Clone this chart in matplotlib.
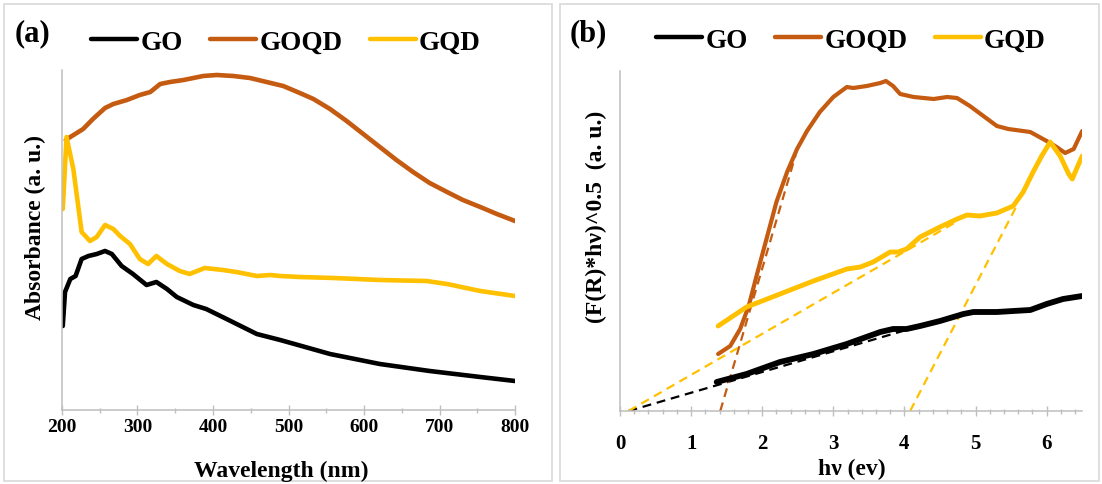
import matplotlib
matplotlib.use("Agg")
import matplotlib.pyplot as plt
from matplotlib.patches import Rectangle
from matplotlib.lines import Line2D
from matplotlib.ticker import MultipleLocator, NullLocator

# ---------------- data ----------------
# (a) UV-vis absorbance
wl_go = [201, 204, 211, 218, 226, 235, 246, 257, 266, 279, 294, 312, 325, 339, 352,
         374, 391, 418, 458, 489, 515, 555, 621, 687, 754, 800]
abs_go = [0.84, 1.18, 1.31, 1.34, 1.51, 1.54, 1.56, 1.59, 1.56, 1.44, 1.36, 1.25, 1.28,
          1.21, 1.13, 1.05, 1.01, 0.91, 0.76, 0.70, 0.645, 0.56, 0.46, 0.39, 0.33, 0.29]

wl_goqd = [205, 211, 228, 241, 257, 268, 286, 303, 317, 330, 343, 361, 374, 387, 405,
           427, 449, 471, 493, 515, 533, 555, 577, 599, 621, 643, 665, 687, 710, 731,
           754, 776, 800]
abs_goqd = [2.70, 2.73, 2.81, 2.91, 3.02, 3.06, 3.10, 3.15, 3.18, 3.26, 3.28, 3.30, 3.32,
            3.34, 3.35, 3.34, 3.32, 3.28, 3.24, 3.17, 3.11, 3.01, 2.89, 2.76, 2.63, 2.50,
            2.38, 2.27, 2.18, 2.10, 2.03, 1.96, 1.89]

wl_gqd = [201, 206, 215, 222, 226, 237, 246, 257, 268, 277, 290, 303, 314, 325, 339, 356,
          369, 389, 413, 431, 458, 476, 489, 515, 560, 621, 683, 710, 754, 800]
abs_gqd = [2.01, 2.73, 2.41, 2.01, 1.78, 1.69, 1.73, 1.85, 1.81, 1.74, 1.66, 1.51, 1.46,
           1.54, 1.46, 1.39, 1.36, 1.42, 1.40, 1.38, 1.34, 1.35, 1.34, 1.33, 1.32, 1.30,
           1.29, 1.26, 1.19, 1.14]

# (b) Kubelka-Munk / Tauc plot
ev_go = [1.36, 1.78, 2.25, 2.72, 3.19, 3.66, 3.84, 4.03, 4.22, 4.50, 4.83, 4.97, 5.30,
         5.53, 5.77, 6.00, 6.23, 6.50]
f_go = [0.29, 0.37, 0.49, 0.57, 0.67, 0.79, 0.82, 0.82, 0.85, 0.90, 0.97, 0.99, 0.99,
        1.00, 1.01, 1.07, 1.12, 1.15]

ev_goqd = [1.38, 1.55, 1.69, 1.81, 1.92, 2.06, 2.20, 2.35, 2.49, 2.63, 2.81, 3.00, 3.19,
           3.28, 3.47, 3.66, 3.74, 3.84, 3.94, 4.13, 4.41, 4.60, 4.74, 4.92, 5.11, 5.30,
           5.46, 5.77, 6.00, 6.14, 6.26, 6.38, 6.50]
f_goqd = [0.57, 0.65, 0.82, 1.05, 1.35, 1.72, 2.09, 2.39, 2.62, 2.80, 2.99, 3.14, 3.24,
          3.23, 3.25, 3.28, 3.30, 3.25, 3.17, 3.14, 3.12, 3.14, 3.13, 3.05, 2.95, 2.85,
          2.82, 2.79, 2.70, 2.64, 2.58, 2.62, 2.80]

ev_gqd = [1.38, 1.78, 2.25, 2.72, 3.19, 3.38, 3.56, 3.80, 3.91, 4.03, 4.22, 4.50, 4.74,
          4.88, 5.06, 5.30, 5.53, 5.67, 5.81, 5.93, 6.05, 6.19, 6.31, 6.36, 6.42, 6.50]
f_gqd = [0.85, 1.04, 1.17, 1.30, 1.42, 1.44, 1.49, 1.59, 1.59, 1.62, 1.74, 1.84, 1.92,
         1.96, 1.95, 1.98, 2.05, 2.19, 2.39, 2.55, 2.69, 2.55, 2.37, 2.32, 2.42, 2.55]

# linear extrapolations (band-gap tangents)
fit_go_ev, fit_go_f = [0.12, 4.75], [0.0, 0.96]
fit_gqd1_ev, fit_gqd1_f = [0.12, 4.75], [0.0, 1.90]
fit_goqd_ev, fit_goqd_f = [1.41, 2.47], [0.0, 2.56]
fit_gqd2_ev, fit_gqd2_f = [4.08, 5.57], [0.0, 2.04]

series_names = ["GO", "GOQD", "GQD"]
colors = {"GO": "#000000", "GOQD": "#C55A11", "GQD": "#FFC000"}

# ---------------- figure ----------------
W, H = 1102, 485
fig = plt.figure(figsize=(W / 100, H / 100), dpi=100)
plt.rcParams["font.family"] = ["Liberation Serif", "DejaVu Serif"]
plt.rcParams["font.weight"] = "bold"

AXIS_GRAY = "#BFBFBF"


def fx(x):
    return x / W


def fy(y):
    return 1 - y / H


# panel frames
for x0, x1 in [(4, 552), (560, 1099)]:
    fig.add_artist(Rectangle((fx(x0), fy(482)), fx(x1 - x0), (482 - 5) / H,
                             transform=fig.transFigure, fill=False,
                             edgecolor="#D9D9D9", linewidth=1.2))

ax_a = fig.add_axes([fx(62), fy(411), fx(453), 340 / H])
ax_b = fig.add_axes([fx(620), fy(412), fx(462.2), 340 / H])

for ax in (ax_a, ax_b):
    for side in ("top", "right"):
        ax.spines[side].set_visible(False)
    for side in ("left", "bottom"):
        ax.spines[side].set_color(AXIS_GRAY)
        ax.spines[side].set_linewidth(1.1)
    ax.yaxis.set_major_locator(NullLocator())
    ax.tick_params(axis="x", which="major", direction="inout", length=7,
                   width=1.0, color=AXIS_GRAY)
    ax.tick_params(axis="x", which="minor", direction="inout", length=3.6,
                   width=1.0, color=AXIS_GRAY)
    ax.set_ylim(0, 3.4)

lw_main = 3.3
kw = dict(solid_capstyle="round", solid_joinstyle="round")

# (a)
ax_a.plot(wl_go, abs_go, color=colors["GO"], lw=lw_main, **kw)
ax_a.plot(wl_goqd, abs_goqd, color=colors["GOQD"], lw=lw_main, **kw)
ax_a.plot(wl_gqd, abs_gqd, color=colors["GQD"], lw=lw_main, **kw)
ax_a.set_xlim(200, 800)
ax_a.xaxis.set_major_locator(MultipleLocator(100))
ax_a.xaxis.set_minor_locator(MultipleLocator(50))
ax_a.tick_params(axis="x", labelsize=14, pad=2.2)

# (b)
dash_kw = dict(lw=1.6, linestyle=(0, (4, 2.6)))
ax_b.plot(fit_go_ev, fit_go_f, color=colors["GO"], **dash_kw)
ax_b.plot(fit_gqd1_ev, fit_gqd1_f, color=colors["GQD"], **dash_kw)
ax_b.plot(fit_goqd_ev, fit_goqd_f, color=colors["GOQD"], **dash_kw)
ax_b.plot(fit_gqd2_ev, fit_gqd2_f, color=colors["GQD"], **dash_kw)
ax_b.plot(ev_go, f_go, color=colors["GO"], lw=4.2, **kw)
ax_b.plot(ev_goqd, f_goqd, color=colors["GOQD"], lw=3.0, **kw)
ax_b.plot(ev_gqd, f_gqd, color=colors["GQD"], lw=3.5, **kw)
ax_b.set_xlim(0, 6.5)
ax_b.xaxis.set_major_locator(MultipleLocator(1))
ax_b.xaxis.set_minor_locator(MultipleLocator(0.2))
ax_b.tick_params(axis="x", labelsize=15, pad=12)

for ax in (ax_a, ax_b):
    for lab in ax.get_xticklabels():
        lab.set_fontweight("bold")

# axis titles
fig.text(fx(281), fy(471), "Wavelength (nm)", ha="center", va="center",
         fontsize=17, fontweight="bold")
fig.text(fx(852), fy(469), "h\u03bd (ev)", ha="center", va="center",
         fontsize=17, fontweight="bold")
fig.text(fx(35), fy(228), "Absorbance (a. u.)", ha="center", va="center",
         rotation=90, fontsize=17, fontweight="bold")
fig.text(fx(596), fy(217), "(F(R)*h\u03bd)^0.5  (a. u.)", ha="center", va="center",
         rotation=90, fontsize=17, fontweight="bold")

# panel tags
fig.text(fx(32), fy(34), "(a)", ha="center", va="center", fontsize=22, fontweight="bold")
fig.text(fx(588), fy(34), "(b)", ha="center", va="center", fontsize=22, fontweight="bold")

# legends
handles = [Line2D([], [], color=colors[n], lw=3.2, solid_capstyle="round") for n in series_names]
for cx, cy in [(286, 43), (851, 41)]:
    fig.legend(handles, series_names, loc="center", bbox_to_anchor=(fx(cx), fy(cy)),
               ncol=3, frameon=False, handlelength=1.7, handletextpad=0.12,
               columnspacing=1.0, borderpad=0, borderaxespad=0,
               prop={"size": 19.5, "weight": "bold"})

fig.savefig("out.png", dpi=100)
